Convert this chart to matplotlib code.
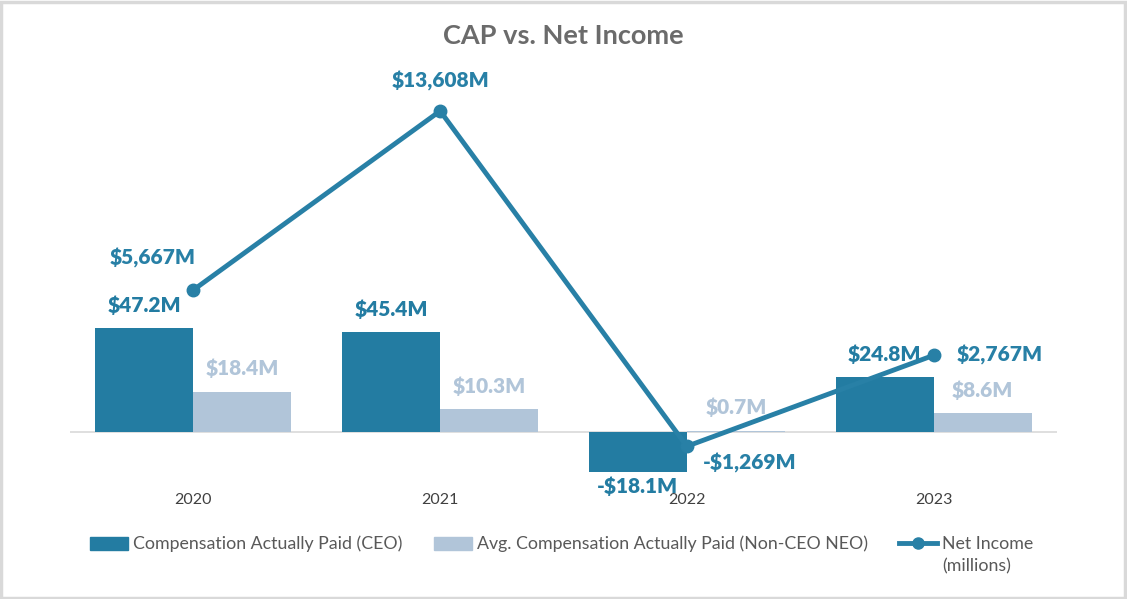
import matplotlib
matplotlib.use('Agg')
import matplotlib.pyplot as plt
from matplotlib.patches import Patch
from matplotlib.lines import Line2D
import numpy as np

years = ['2020', '2021', '2022', '2023']
ceo_cap = [47.2, 45.4, -18.1, 24.8]
neo_cap = [18.4, 10.3, 0.7, 8.6]
net_income = [5667, 13608, -1269, 2767]
ceo_labels = ['$47.2M', '$45.4M', '-$18.1M', '$24.8M']
neo_labels = ['$18.4M', '$10.3M', '$0.7M', '$8.6M']
ni_labels = ['$5,667M', '$13,608M', '-$1,269M', '$2,767M']

dark = '#237ca2'
light = '#b1c5d9'
line_c = '#2880a6'
txt_grey = '#595959'

plt.rcParams['font.family'] = ['Lato', 'DejaVu Sans']

fig = plt.figure(figsize=(11.27, 5.99), dpi=100)
W, H = 1127, 599
# plot area in pixels
x0, x1 = 70, 1057
ytop, ybot = 90, 480
ax = fig.add_axes([x0 / W, 1 - ybot / H, (x1 - x0) / W, (ybot - ytop) / H])
ax2 = ax.twinx()

x = np.arange(len(years))
bw = 0.397
ax.bar(x - bw / 2, ceo_cap, bw, color=dark, zorder=2)
ax.bar(x + bw / 2, neo_cap, bw, color=light, zorder=2)
ax.axhline(0, color='#d9d9d9', lw=1.2, zorder=1)

ax.set_xlim(-0.5, 3.5)
ax.set_ylim(-21.8, 155.5)
ax2.set_ylim(-2764, 14538)

ax2.plot(x, net_income, color=line_c, lw=3.5, marker='o', ms=9, zorder=3)

for a in (ax, ax2):
    for s in a.spines.values():
        s.set_visible(False)
    a.set_yticks([])
ax.set_xticks(x)
ax.set_xticklabels(years, fontsize=11.5, color='#404040')
ax.tick_params(axis='x', length=0, pad=9)

lab_kw = dict(fontsize=15, fontweight='heavy', ha='center', va='center', textcoords='offset pixels')
for i in range(len(years)):
    if ceo_cap[i] >= 0:
        ax.annotate(ceo_labels[i], (x[i] - bw / 2, ceo_cap[i]), xytext=(0, 23), color=dark, **lab_kw)
    else:
        ax.annotate(ceo_labels[i], (x[i] - bw / 2, ceo_cap[i]), xytext=(0, -14), color=dark, **lab_kw)
    ax.annotate(neo_labels[i], (x[i] + bw / 2, neo_cap[i]), xytext=(0, 23), color=light, **lab_kw)

ni_off = [(-41, 32), (0, 30), (63, -17), (66, 0)]
for i in range(len(years)):
    ax2.annotate(ni_labels[i], (x[i], net_income[i]), xytext=ni_off[i], color=line_c, **lab_kw)

fig.text(0.5, 1 - 36 / H, 'CAP vs. Net Income', ha='center', va='center',
         fontsize=19.5, fontweight='bold', color='#6b6b6b')

handles = [Patch(color=dark), Patch(color=light),
           Line2D([], [], color=line_c, lw=3.5, marker='o', ms=8)]
labels = ['Compensation Actually Paid (CEO)', 'Avg. Compensation Actually Paid (Non-CEO NEO)',
          'Net Income']
leg = fig.legend(handles, labels, ncol=3, loc='center left', bbox_to_anchor=(90 / W, 1 - 544 / H),
                 frameon=False, fontsize=12.8, handlelength=2.15, handleheight=0.75,
                 handletextpad=0.28, columnspacing=1.75, labelcolor=txt_grey,
                 borderpad=0, borderaxespad=0)
fig.canvas.draw()
# second line of the net income label, under its first line
bb = leg.get_texts()[2].get_window_extent()
fig.text(bb.x0 / W, 1 - 566 / H, '(millions)', ha='left', va='center', fontsize=12.8, color=txt_grey)

# outer border
fig.patches.append(plt.Rectangle((0.001, 0.002), 0.997, 0.995, transform=fig.transFigure,
                                 fill=False, edgecolor='#d9d9d9', lw=2.5))

fig.savefig('out.png', dpi=100)
